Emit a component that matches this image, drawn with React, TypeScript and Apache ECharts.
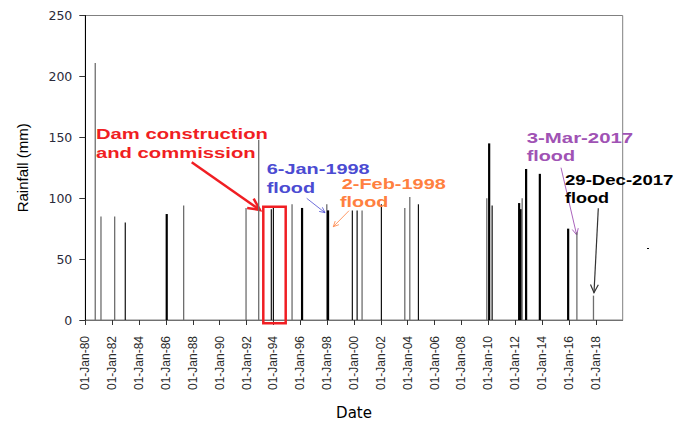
import React, { useEffect, useRef } from "react";
import * as echarts from "echarts";

// Rainfall events (date, mm), grouped by how the bar is drawn
const grayDates = ["1980-09-28", "1981-03-03", "1982-03-10", "1987-04-28", "1991-12-19", "1992-11-28", "1995-05-23", "1997-12-23", "2000-08-08", "2003-10-13", "2004-02-26", "2009-11-20", "2012-07-08", "2016-08-04", "2017-10-29"];
const grayValues = [211, 85, 85, 94, 92, 148, 95, 95, 90, 92, 101, 100, 100, 72, 20];

const blackDates = ["1982-12-23", "1993-11-06", "1994-01-01", "1999-11-17", "2000-03-26", "2002-01-15", "2004-10-18", "2010-04-14"];
const blackValues = [80, 91, 92, 90, 90, 95, 95, 94];

const thickDates = ["1986-01-23", "1996-02-19", "1998-01-26", "2010-01-23", "2012-04-17", "2012-05-23", "2012-10-24", "2013-11-01", "2015-12-10"];
const thickValues = [87, 92, 90, 145, 96, 91, 124, 120, 75];

const yearMin = 1980;
const yearMax = 2020;
const yearStep = 2;
const rainMax = 250;
const rainStep = 50;

const toYear = (s: string) => {
  const [y, m, d] = s.split("-").map(Number);
  const t = Date.UTC(y, m - 1, d);
  const a = Date.UTC(y, 0, 1);
  const b = Date.UTC(y + 1, 0, 1);
  return y + (t - a) / (b - a);
};

const makeSeries = (dates: string[], values: number[], color: string, width: number) => ({
  type: "custom",
  coordinateSystem: "cartesian2d",
  data: dates.map((d, i) => [toYear(d), values[i]]),
  renderItem: (params: any, api: any) => {
    const x = api.value(0);
    const v = api.value(1);
    const top = api.coord([x, v]);
    const bot = api.coord([x, 0]);
    return {
      type: "rect",
      shape: { x: top[0] - width / 2, y: top[1], width, height: bot[1] - top[1] },
      style: { fill: color },
    };
  },
  z: 3,
});

const arrow = (x1: number, y1: number, x2: number, y2: number, color: string, lw: number, head: number) => {
  const ang = Math.atan2(y2 - y1, x2 - x1);
  const a1 = ang + Math.PI - 0.45;
  const a2 = ang + Math.PI + 0.45;
  return {
    type: "group",
    z: 50,
    children: [
      { type: "line", shape: { x1, y1, x2, y2 }, style: { stroke: color, lineWidth: lw } },
      {
        type: "polyline",
        shape: {
          points: [
            [x2 + head * Math.cos(a1), y2 + head * Math.sin(a1)],
            [x2, y2],
            [x2 + head * Math.cos(a2), y2 + head * Math.sin(a2)],
          ],
        },
        style: { stroke: color, lineWidth: lw, fill: "none" },
      },
    ],
  };
};

const label = (text: string, x: number, y: number, color: string, sx: number) => ({
  type: "text",
  x,
  y,
  scaleX: sx,
  z: 60,
  style: {
    text,
    fill: color,
    font: 'bold 15px "Liberation Sans", Arial, sans-serif',
    align: "left",
    verticalAlign: "middle",
    textAlign: "left",
    textVerticalAlign: "middle",
  },
});

export default function App() {
  const ref = useRef<HTMLDivElement>(null);
  useEffect(() => {
    if (!ref.current) return;
    const chart = echarts.init(ref.current, null, { renderer: "svg" });
    const red = "#f01e23";
    const blue = "#4b4bd2";
    const orange = "#ff8040";
    const purple = "#a052b4";
    chart.setOption({
      animation: false,
      backgroundColor: "#ffffff",
      grid: {
        left: 85.3,
        right: 63.3,
        top: 15.5,
        bottom: 99.3,
        show: true,
        borderColor: "#808080",
        borderWidth: 1,
        backgroundColor: "transparent",
      },
      xAxis: {
        type: "value",
        min: yearMin,
        max: yearMax,
        interval: yearStep,
        name: "Date",
        nameLocation: "middle",
        nameGap: 85,
        nameTextStyle: { fontFamily: "DejaVu Sans", fontSize: 15, color: "#000" },
        axisLine: { show: true, lineStyle: { color: "#707070", width: 1 } },
        axisTick: { show: true, inside: false, length: 5, lineStyle: { color: "#333" } },
        splitLine: { show: false },
        axisLabel: {
          rotate: 90,
          margin: 16,
          showMaxLabel: false,
          fontFamily: '"Liberation Sans", Arial',
          fontSize: 12,
          color: "#2a2a2a",
          formatter: (v: number) => "01-Jan-" + String(Math.round(v) % 100).padStart(2, "0"),
        },
      },
      yAxis: {
        type: "value",
        min: 0,
        max: rainMax,
        interval: rainStep,
        name: "Rainfall (mm)",
        nameLocation: "middle",
        nameGap: 55,
        nameRotate: 90,
        nameTextStyle: { fontFamily: '"Liberation Sans", Arial', fontSize: 15, color: "#000" },
        axisLine: { show: true, lineStyle: { color: "#000", width: 1 } },
        axisTick: { show: true, inside: false, length: 6, lineStyle: { color: "#333" } },
        splitLine: { show: false },
        axisLabel: { margin: 13, fontFamily: "DejaVu Sans", fontSize: 12.5, color: "#2a2a3a" },
      },
      series: [
        makeSeries(grayDates, grayValues, "#6e6e6e", 1.3),
        makeSeries(blackDates, blackValues, "#111111", 1.2),
        makeSeries(thickDates, thickValues, "#000000", 2.2),
      ],
      graphic: [
        label("Dam construction", 96, 134.2, red, 1.35),
        label("and commission", 96, 152.5, red, 1.35),
        label("6-Jan-1998", 266.7, 169, blue, 1.33),
        label("flood", 266.7, 187.5, blue, 1.32),
        label("2-Feb-1998", 341.7, 183.5, orange, 1.33),
        label("flood", 340, 201.8, orange, 1.32),
        label("3-Mar-2017", 526.7, 137.5, purple, 1.36),
        label("flood", 526.7, 156, purple, 1.32),
        label("29-Dec-2017", 565, 179.7, "#000", 1.24),
        label("flood", 565, 197.8, "#000", 1.2),
        {
          type: "rect",
          z: 55,
          shape: { x: 263.3, y: 206.7, width: 22.4, height: 116.6 },
          style: { fill: "none", stroke: red, lineWidth: 2.5 },
        },
        arrow(191.7, 162.3, 260, 210, red, 2.5, 13),
        arrow(306.7, 198.3, 325, 212.7, blue, 0.8, 6),
        arrow(349, 210.7, 333.3, 226.7, orange, 0.8, 6),
        arrow(561, 167.7, 576.7, 235, purple, 0.9, 7),
        arrow(598.3, 208.3, 594, 292.7, "#333", 1.2, 9),
        { type: "rect", z: 55, shape: { x: 647, y: 248, width: 2, height: 1 }, style: { fill: "#000" } },
      ],
    });
    return () => chart.dispose();
  }, []);
  return (
    <div
      ref={ref}
      style={{ position: "fixed", left: 0, top: 0, width: 686, height: 425, background: "#fff" }}
    />
  );
}
